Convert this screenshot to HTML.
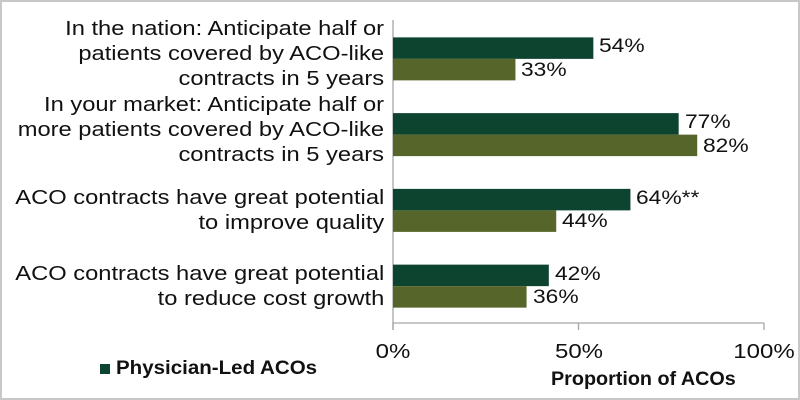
<!DOCTYPE html>
<html><head><meta charset="utf-8"><style>
body{margin:0;background:#fff;}
#c{position:relative;width:800px;height:400px;overflow:hidden;font-family:"Liberation Sans",sans-serif;}
#frame{position:absolute;left:0;top:0;width:796px;height:396px;border:2px solid #c8c8c8;}
.cat{position:absolute;right:416px;text-align:right;font-size:20px;color:#111;line-height:25px;white-space:nowrap;}
.cat span{display:block;transform-origin:right center;}
.val{position:absolute;font-size:19px;color:#111;transform:scaleX(1.2);transform-origin:left center;}
.tick{position:absolute;top:341px;font-size:20px;color:#111;transform:translateX(-50%) scaleX(1.2);}
</style></head><body>
<div id="c">
<div id="frame"></div>
<svg id="svg" width="800" height="400" style="position:absolute;left:0;top:0"></svg>
<div style="position:absolute;left:100px;top:364px;width:10px;height:10px;background:#0d4430;"></div>
<div style="position:absolute;left:116px;top:358px;font-weight:bold;font-size:19px;color:#111;white-space:nowrap;transform:scaleX(1.08);transform-origin:left center;">Physician-Led ACOs</div>
<div style="position:absolute;left:551px;top:369px;font-weight:bold;font-size:19px;color:#111;white-space:nowrap;transform:scaleX(1.04);transform-origin:left center;">Proportion of ACOs</div>
</div>
<script>
const categories=[
"In the nation: Anticipate half or<br>patients covered by ACO-like<br>contracts in 5 years",
"In your market: Anticipate half or<br>more patients covered by ACO-like<br>contracts in 5 years",
"ACO contracts have great potential<br>to improve quality",
"ACO contracts have great potential<br>to reduce cost growth"];
const physicianLed=[54,77,64,42];
const otherACOs=[33,82,44,36];
const physLabels=["54%","77%","64%**","42%"];
const otherLabels=["33%","82%","44%","36%"];
const ticks=[0,50,100];
const X0=393,X1=764,top0=20,bottom=323;
const x=v=>X0+(X1-X0)*v/100;
const band=(bottom-top0)/categories.length;
const yc=i=>top0+band*(i+0.5)+1;
const svg=document.getElementById('svg');const c=document.getElementById('c');
const NS='http://www.w3.org/2000/svg';
function rect(x0,y0,w,h,f,n){const r=document.createElementNS(NS,'rect');r.setAttribute('x',x0);r.setAttribute('y',y0);r.setAttribute('width',w);r.setAttribute('height',h);r.setAttribute('fill',f);


svg.appendChild(r);}
function line(a,b,c2,d,n){const l=document.createElementNS(NS,'line');l.setAttribute('x1',a);l.setAttribute('y1',b);l.setAttribute('x2',c2);l.setAttribute('y2',d);l.setAttribute('stroke','#a6a6a6');l.setAttribute('stroke-width','1.3');


svg.appendChild(l);}
line(X0,top0,X0,bottom+7,'y-axis-line');
line(X0,bottom,X1,bottom,'x-axis-line');
ticks.forEach(t=>{line(x(t),bottom,x(t),bottom+7,'x-tick');
const d=document.createElement('div');d.className='tick';d.style.left=x(t)+'px';d.textContent=t+'%';


c.appendChild(d);});
const bh=21.5;
const catDivs=[];
categories.forEach((cat,i)=>{
const y=yc(i);
rect(X0,y-bh,x(physicianLed[i])-X0,bh,'#0d4430','bar-physician-led');
rect(X0,y,x(otherACOs[i])-X0,bh,'#56652a','bar-other');
const l1=document.createElement('div');l1.className='val';l1.style.left=(x(physicianLed[i])+6)+'px';l1.style.top=(y-bh-1)+'px';l1.textContent=physLabels[i];


c.appendChild(l1);
const l2=document.createElement('div');l2.className='val';l2.style.left=(x(otherACOs[i])+6)+'px';l2.style.top=(y+1)+'px';l2.textContent=otherLabels[i];


c.appendChild(l2);
const d=document.createElement('div');d.className='cat';
const parts=cat.split('<br>');
d.innerHTML=parts.map(p=>'<span>'+p+'</span>').join('');
d.style.top=(y-parts.length*12.5-(parts.length==3?4:-1))+'px';


c.appendChild(d);
catDivs.push(d);
});
let ref=null;
catDivs.forEach(d=>d.querySelectorAll('span').forEach(s=>{if(s.textContent.indexOf('great potential')>=0)ref=s;}));
const probe=document.createElement('span');probe.style.cssText='position:absolute;visibility:hidden;font-size:20px;white-space:nowrap;font-family:"Liberation Sans",sans-serif';probe.textContent=ref.textContent;c.appendChild(probe);
const sc=369/probe.getBoundingClientRect().width;probe.remove();
catDivs.forEach(d=>d.querySelectorAll('span').forEach(s=>{s.style.transform='scaleX('+sc+')';}));
</script>
</body></html>
